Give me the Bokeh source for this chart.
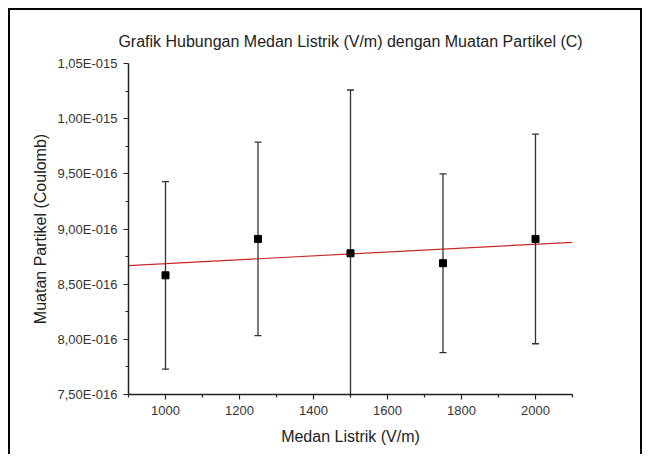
import numpy as np
from bokeh.plotting import figure
from bokeh.models import FixedTicker, CustomJSTickFormatter, Range1d, ColumnDataSource
from bokeh.embed import file_html
from bokeh.resources import INLINE

# ---- data ----
medan = [1000, 1250, 1500, 1750, 2000]                       # V/m
muatan = [8.58e-16, 8.91e-16, 8.78e-16, 8.69e-16, 8.91e-16]  # C
galat = [0.85e-16, 0.877e-16, 1.48e-16, 0.81e-16, 0.95e-16]  # C

x_ticks = [1000, 1200, 1400, 1600, 1800, 2000]
x_minor = [900, 1100, 1300, 1500, 1700, 1900, 2100]
y_ticks = [7.5e-16, 8.0e-16, 8.5e-16, 9.0e-16, 9.5e-16, 1.0e-15, 1.05e-15]
y_minor = [7.75e-16, 8.25e-16, 8.75e-16, 9.25e-16, 9.75e-16, 1.025e-15]

title_text = "Grafik Hubungan Medan Listrik (V/m) dengan Muatan Partikel (C)"
x_label = "Medan Listrik (V/m)"
y_label = "Muatan Partikel (Coulomb)"

FONT = "Liberation Sans"

p = figure(width=634, height=446, output_backend="svg", toolbar_location=None,
           x_range=Range1d(900, 2100), y_range=Range1d(7.5e-16, 1.05e-15),
           min_border_left=118, min_border_right=72, min_border_top=53,
           min_border_bottom=62, title=title_text, margin=(8, 0, 0, 8))
p.styles = {"border-left": "2px solid black", "border-top": "2px solid black",
            "border-right": "2px solid black"}

p.title.align = "center"
p.title.vertical_align = "top"
p.title.text_font = FONT
p.title.text_font_size = "16px"
p.title.text_font_style = "normal"
p.title.text_color = "#222222"
p.title.standoff = 24
p.title.offset = 4

p.outline_line_color = None
p.xgrid.visible = False
p.ygrid.visible = False

for ax in (p.xaxis[0], p.yaxis[0]):
    ax.axis_line_color = "#222222"
    ax.axis_line_width = 1.5
    ax.major_tick_line_color = "#222222"
    ax.minor_tick_line_color = "#222222"
    ax.major_tick_line_width = 1.2
    ax.minor_tick_line_width = 1.2
    ax.major_tick_in = 0
    ax.major_tick_out = 5
    ax.minor_tick_in = 0
    ax.minor_tick_out = 3
    ax.major_label_text_font = FONT
    ax.major_label_text_font_size = "13px"
    ax.major_label_text_color = "#333333"
    ax.axis_label_text_font = FONT
    ax.axis_label_text_font_size = "16px"
    ax.axis_label_text_font_style = "normal"
    ax.axis_label_text_color = "#222222"

p.xaxis.ticker = FixedTicker(ticks=x_ticks, minor_ticks=x_minor)
p.yaxis.ticker = FixedTicker(ticks=y_ticks, minor_ticks=y_minor)
p.yaxis.formatter = CustomJSTickFormatter(code="""
    const e = Math.floor(Math.log10(Math.abs(tick)) + 1e-9);
    const m = tick / Math.pow(10, e);
    return m.toFixed(2).replace('.', ',') + 'E-' + String(-e).padStart(3, '0');
""")
p.xaxis.axis_label = x_label
p.yaxis.axis_label = y_label
p.xaxis.major_label_standoff = 6
p.yaxis.major_label_standoff = 6
p.xaxis.axis_label_standoff = 10
p.yaxis.axis_label_standoff = 6

# linear fit line (from the data)
coef = np.polyfit(np.array(medan, dtype=float), np.array(muatan), 1)
xf = [p.x_range.start, p.x_range.end]
yf = [coef[0] * xv + coef[1] for xv in xf]
p.line(xf, yf, line_color="#c8282a", line_width=1.2)

# error bars
lo = [m - g for m, g in zip(muatan, galat)]
hi = [m + g for m, g in zip(muatan, galat)]
src = ColumnDataSource(dict(x=medan, y=muatan, lo=lo, hi=hi))
p.segment(x0="x", y0="lo", x1="x", y1="hi", source=src, line_color="#333333", line_width=1.3)
p.scatter(x="x", y="hi", source=src, marker="dash", size=7, line_color="#333333", line_width=1.3)
p.scatter(x="x", y="lo", source=src, marker="dash", size=7, line_color="#333333", line_width=1.3)

# data points
p.scatter(x="x", y="y", source=src, marker="square", size=7,
          fill_color="black", line_color="black")

open("out.html", "w").write(file_html(p, INLINE))
